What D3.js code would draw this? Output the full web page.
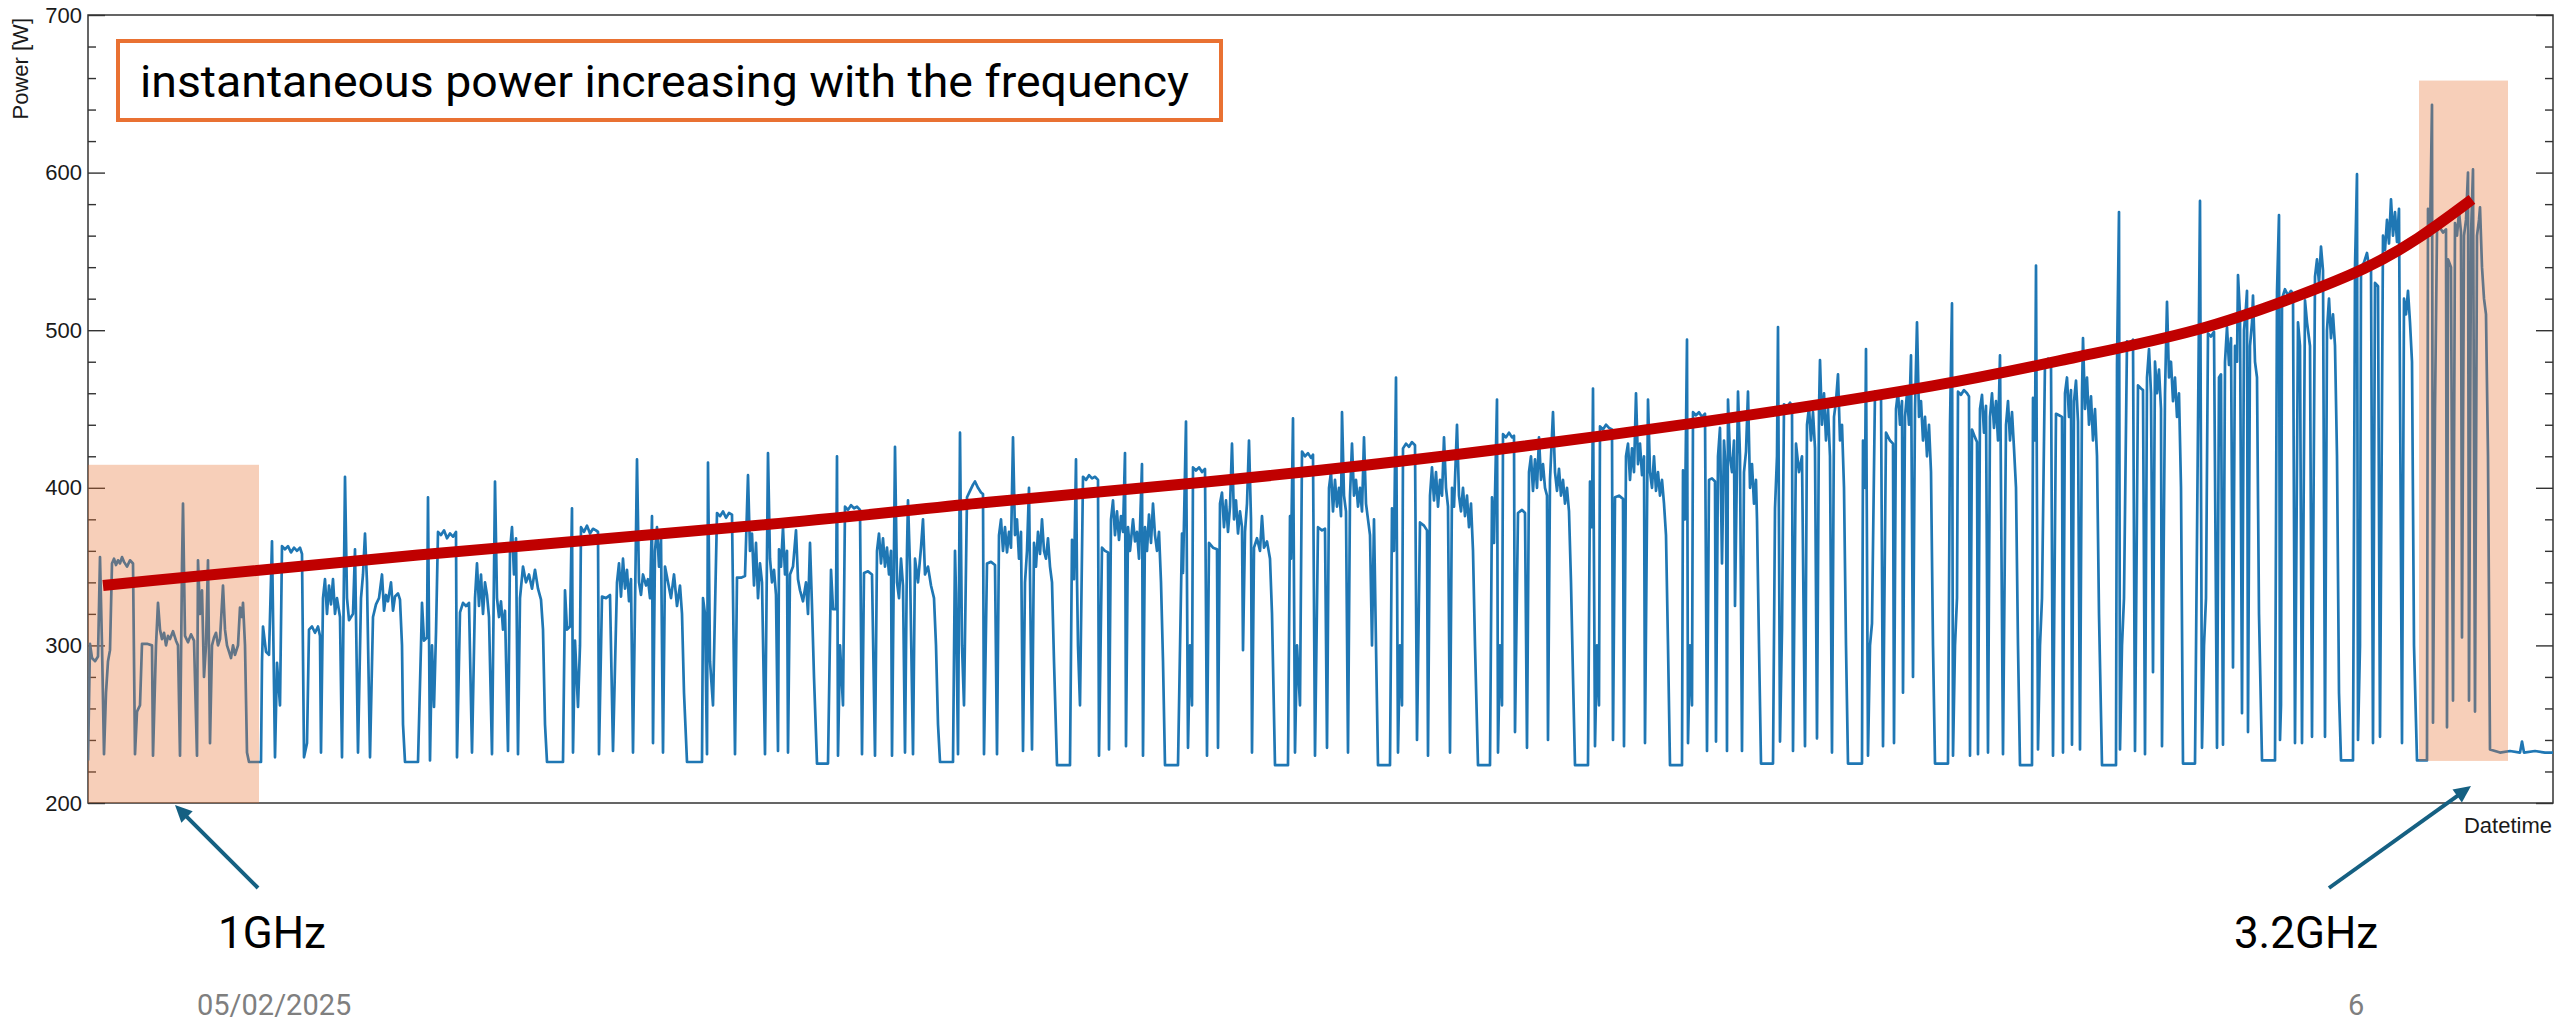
<!DOCTYPE html>
<html>
<head>
<meta charset="utf-8">
<title>Instantaneous power vs CPU frequency</title>
<script src="https://cdn.jsdelivr.net/npm/d3@7/dist/d3.min.js"></script>
<style>
  html, body { margin: 0; padding: 0; background: #ffffff; }
  svg { display: block; }
</style>
</head>
<body>
<svg id="chart" width="2560" height="1023"></svg>
<script>
// ---------------------------------------------------------------------------
// Data
// ---------------------------------------------------------------------------

// Node power log: [sample number (6 s sampling), power in W].
// One benchmark pass per frequency step, 1.0 GHz up to 3.2 GHz, with an idle gap between passes.
const trace = [
  // 1.0 GHz
  [0,227],[2,301],[4,292],[7,290],[10,293],[12,356],[14,300],[16,231],[18,270],[20,290],[22,297],[24,352],[26,355],[28,351],[30,354],[32,352],[34,356],[36,353],[39,350],[42,354],[45,352],[47,231],[49,258],[52,262],[54,301],[59,301],[64,300],[65,230],[68,300],[70,327],[72,310],[74,304],[76,308],[78,300],[80,306],[82,304],[85,309],[88,303],[90,300],[92,230],[94,350],[95,390],[97,306],[100,302],[103,307],[106,303],[109,230],[110,354],[112,320],[114,335],[116,280],[118,300],[120,354],[122,238],[124,300],[126,305],[128,308],[130,300],[132,304],[135,338],[137,310],[139,300],[141,296],[143,292],[145,300],[147,294],[150,300],[152,324],[154,318],[155,327],[157,300],[159,232],[161,226],[167,226],[173,226],
  // 1.1 GHz
  [174,290],[175,312],[178,296],[181,294],[184,366],[187,229],[189,289],[192,262],[194,363],[197,361],[200,363],[203,359],[206,362],[209,360],[212,362],[214,358],[216,229],[219,238],[221,310],[224,312],[227,308],[230,312],[232,306],[233,232],[235,330],[237,342],[239,320],[241,338],[243,326],[245,342],[247,320],[249,330],[252,318],[254,229],[257,407],[259,330],[261,316],[263,318],[265,320],[267,361],[268,318],[270,232],[273,330],[275,345],[277,371],[279,340],[282,229],[285,318],[288,326],[291,330],[294,345],[296,322],[298,332],[300,328],[303,340],[305,322],[307,331],[310,333],[312,329],[314,300],[315,250],[317,226],[330,226],
  // 1.2 GHz
  [333,300],[334,327],[336,303],[339,305],[340,394],[342,227],[344,300],[346,261],[348,308],[350,372],[353,370],[356,373],[359,368],[362,371],[365,369],[368,372],[369,229],[372,321],[375,327],[378,325],[381,327],[384,232],[387,330],[389,352],[391,325],[393,345],[395,320],[397,340],[399,332],[401,318],[404,231],[407,404],[409,330],[411,318],[413,328],[415,310],[417,322],[420,233],[422,360],[424,375],[426,345],[428,368],[430,231],[432,330],[435,350],[438,340],[441,345],[444,336],[447,348],[450,336],[453,329],[455,310],[457,250],[459,226],[475,226],
  // 1.3 GHz
  [477,335],[479,310],[482,312],[484,387],[485,232],[487,303],[490,261],[492,300],[493,375],[496,372],[499,376],[502,371],[505,374],[508,373],[510,372],[511,231],[514,331],[518,330],[522,332],[525,233],[529,340],[531,352],[533,331],[535,355],[537,336],[539,348],[541,328],[543,342],[545,232],[549,418],[551,340],[553,332],[555,345],[558,338],[560,342],[562,330],[564,382],[565,238],[567,360],[569,375],[571,350],[573,368],[575,232],[577,350],[580,340],[583,330],[586,345],[589,325],[592,338],[594,320],[596,270],[599,226],[614,226],
  // 1.4 GHz
  [615,330],[617,320],[619,231],[620,416],[622,290],[625,262],[629,384],[632,382],[635,385],[638,381],[641,384],[644,383],[647,231],[649,343],[653,343],[657,344],[660,408],[662,360],[664,371],[666,338],[668,365],[670,330],[672,352],[674,340],[677,231],[680,422],[682,355],[684,340],[686,348],[688,332],[690,233],[691,361],[693,350],[695,375],[697,345],[699,360],[700,232],[702,345],[705,350],[708,373],[710,342],[712,335],[715,328],[718,340],[720,320],[722,365],[724,325],[726,280],[729,225],[740,225],
  // 1.5 GHz
  [743,348],[745,323],[748,323],[749,420],[750,230],[752,300],[755,262],[757,388],[760,386],[763,389],[766,387],[769,388],[772,386],[774,231],[776,346],[780,347],[784,345],[787,230],[789,360],[791,371],[793,352],[795,368],[797,350],[799,362],[801,345],[803,360],[804,230],[807,426],[809,340],[811,330],[813,355],[815,338],[817,232],[819,360],[820,392],[822,350],[825,231],[827,355],[830,340],[833,362],[835,380],[837,345],[840,350],[843,338],[846,330],[848,300],[850,250],[852,226],[865,226],
  // 1.6 GHz
  [867,360],[868,333],[870,231],[872,435],[874,300],[876,262],[879,394],[882,398],[885,402],[887,404],[890,400],[893,397],[895,396],[896,231],[899,352],[903,353],[907,351],[909,231],[911,370],[913,380],[915,360],[917,375],[919,359],[921,372],[923,362],[925,432],[927,370],[929,380],[931,355],[933,372],[935,233],[937,340],[939,360],[941,400],[942,345],[944,234],[946,365],[948,350],[950,372],[952,358],[954,380],[956,360],[958,355],[960,368],[962,350],[964,340],[966,290],[969,224],[982,224],
  // 1.7 GHz
  [984,367],[986,342],[988,418],[989,342],[990,300],[992,262],[995,407],[998,405],[1001,408],[1004,406],[1007,407],[1010,405],[1011,230],[1014,362],[1017,360],[1020,359],[1021,234],[1023,380],[1025,392],[1027,370],[1029,385],[1031,367],[1033,382],[1035,372],[1037,422],[1038,236],[1040,375],[1042,360],[1045,380],[1047,366],[1049,372],[1051,355],[1054,415],[1055,230],[1057,375],[1059,360],[1061,383],[1063,365],[1065,390],[1067,370],[1069,360],[1071,372],[1073,340],[1075,290],[1077,224],[1090,224],
  // 1.8 GHz
  [1094,371],[1095,346],[1098,442],[1100,235],[1102,300],[1104,262],[1105,413],[1108,411],[1111,413],[1114,410],[1117,412],[1119,230],[1121,365],[1125,362],[1129,361],[1130,235],[1132,390],[1134,397],[1136,375],[1138,392],[1140,372],[1142,388],[1144,428],[1146,380],[1148,392],[1150,371],[1152,385],[1154,375],[1155,297],[1157,372],[1159,390],[1161,430],[1163,380],[1164,232],[1166,362],[1169,368],[1172,360],[1174,382],[1176,362],[1179,366],[1182,355],[1184,320],[1187,224],[1200,224],
  // 1.9 GHz
  [1202,382],[1203,355],[1205,444],[1207,232],[1209,300],[1212,262],[1214,423],[1217,420],[1220,422],[1223,419],[1225,421],[1227,230],[1230,375],[1234,373],[1237,374],[1239,235],[1241,400],[1243,410],[1245,385],[1247,405],[1249,388],[1251,400],[1253,382],[1254,448],[1256,395],[1258,385],[1260,232],[1262,395],[1264,428],[1266,395],[1268,405],[1270,388],[1272,400],[1274,385],[1276,432],[1278,390],[1280,380],[1282,370],[1284,300],[1286,380],[1288,300],[1290,224],[1302,224],
  // 2.0 GHz
  [1304,387],[1306,360],[1308,470],[1310,232],[1312,300],[1314,262],[1315,425],[1318,428],[1321,426],[1324,429],[1327,427],[1329,240],[1332,378],[1336,376],[1339,373],[1340,230],[1342,395],[1344,413],[1346,392],[1348,410],[1350,388],[1352,405],[1354,395],[1356,432],[1358,400],[1360,388],[1362,232],[1364,400],[1366,388],[1369,440],[1371,395],[1373,385],[1375,400],[1377,382],[1379,395],[1381,375],[1383,390],[1385,360],[1387,300],[1390,224],[1402,224],
  // 2.1 GHz
  [1404,394],[1406,365],[1409,456],[1410,232],[1412,300],[1414,262],[1415,434],[1418,432],[1421,435],[1424,432],[1426,433],[1427,245],[1430,384],[1434,386],[1437,384],[1439,235],[1441,410],[1443,420],[1445,398],[1447,418],[1449,400],[1451,432],[1453,405],[1455,415],[1457,400],[1459,395],[1460,240],[1462,405],[1465,448],[1467,410],[1469,398],[1471,412],[1473,395],[1475,405],[1477,390],[1479,400],[1481,385],[1483,340],[1485,280],[1487,224],[1500,224],
  // 2.2 GHz
  [1502,404],[1504,375],[1505,463],[1507,236],[1509,300],[1511,262],[1512,439],[1515,437],[1518,440],[1521,438],[1524,437],[1525,240],[1527,394],[1531,395],[1535,393],[1536,236],[1538,420],[1540,428],[1542,405],[1544,425],[1546,410],[1548,460],[1550,415],[1552,428],[1554,408],[1556,420],[1557,238],[1560,456],[1562,410],[1564,400],[1566,420],[1568,398],[1570,410],[1572,395],[1574,405],[1576,390],[1578,370],[1580,300],[1582,224],[1594,224],
  // 2.3 GHz
  [1595,411],[1597,380],[1599,494],[1600,238],[1602,300],[1604,262],[1605,448],[1608,446],[1611,448],[1614,445],[1617,447],[1619,233],[1621,405],[1624,406],[1627,404],[1628,239],[1630,420],[1632,438],[1634,352],[1636,430],[1638,408],[1639,233],[1640,456],[1642,420],[1644,410],[1646,430],[1647,325],[1649,415],[1650,461],[1652,420],[1654,233],[1656,410],[1658,423],[1660,461],[1662,400],[1664,415],[1666,390],[1668,405],[1669,380],[1671,300],[1673,225],[1685,225],
  // 2.4 GHz
  [1687,387],[1689,420],[1690,502],[1692,239],[1694,310],[1696,453],[1699,451],[1702,454],[1704,452],[1705,233],[1708,428],[1711,410],[1714,420],[1717,236],[1719,440],[1721,451],[1723,430],[1725,448],[1727,425],[1729,241],[1731,450],[1732,481],[1734,440],[1736,460],[1738,430],[1740,450],[1742,420],[1744,232],[1746,445],[1748,455],[1750,472],[1752,430],[1754,440],[1756,400],[1758,300],[1760,225],[1774,225],
  // 2.5 GHz
  [1775,430],[1777,400],[1778,488],[1780,230],[1782,300],[1784,314],[1787,461],[1790,459],[1793,461],[1795,236],[1798,435],[1802,430],[1805,428],[1806,238],[1808,450],[1810,461],[1812,440],[1814,455],[1815,270],[1817,445],[1819,460],[1821,440],[1823,484],[1825,280],[1827,450],[1829,505],[1831,445],[1833,455],[1835,430],[1837,445],[1839,420],[1841,440],[1843,410],[1845,300],[1847,225],[1860,225],
  // 2.6 GHz
  [1862,440],[1864,517],[1865,230],[1867,300],[1869,330],[1870,461],[1873,459],[1876,462],[1879,460],[1881,458],[1882,230],[1884,437],[1887,432],[1889,429],[1890,231],[1892,450],[1894,459],[1896,435],[1898,452],[1900,232],[1902,445],[1904,460],[1906,438],[1908,455],[1910,430],[1912,484],[1915,231],[1918,440],[1920,455],[1922,430],[1924,448],[1926,425],[1928,400],[1930,300],[1932,224],[1944,224],
  // 2.7 GHz
  [1945,457],[1947,430],[1948,541],[1950,234],[1952,300],[1954,330],[1957,480],[1960,482],[1963,479],[1965,230],[1968,447],[1971,446],[1974,445],[1975,232],[1977,460],[1979,470],[1981,445],[1983,462],[1984,237],[1986,455],[1988,468],[1990,442],[1992,234],[1994,460],[1995,495],[1997,450],[1999,470],[2001,440],[2003,458],[2005,430],[2007,450],[2009,420],[2011,320],[2014,224],[2028,224],
  // 2.8 GHz
  [2029,478],[2031,575],[2032,234],[2034,300],[2036,330],[2039,493],[2042,491],[2045,494],[2047,233],[2050,465],[2053,463],[2055,462],[2057,231],[2059,470],[2061,488],[2063,460],[2065,283],[2067,480],[2069,460],[2071,475],[2073,450],[2074,236],[2077,460],[2079,518],[2081,470],[2083,480],[2085,455],[2087,470],[2089,445],[2091,460],[2093,400],[2095,225],[2107,225],
  // 2.9 GHz
  [2110,440],[2112,582],[2114,235],[2116,300],[2118,330],[2120,498],[2123,496],[2126,499],[2129,235],[2131,470],[2133,472],[2135,237],[2137,480],[2139,502],[2141,478],[2143,495],[2145,286],[2147,490],[2149,480],[2150,535],[2152,510],[2154,257],[2156,500],[2158,515],[2159,525],[2160,245],[2162,490],[2164,505],[2165,522],[2167,480],[2169,470],[2171,320],[2174,227],[2187,227],
  // 3.0 GHz
  [2189,524],[2191,573],[2192,240],[2193,262],[2194,520],[2197,526],[2200,522],[2203,525],[2205,523],[2207,238],[2210,505],[2212,490],[2214,238],[2217,519],[2219,505],[2222,490],[2224,242],[2227,534],[2229,545],[2231,530],[2233,553],[2235,538],[2237,242],[2239,500],[2241,520],[2243,495],[2245,510],[2247,490],[2249,420],[2251,270],[2253,227],[2265,227],
  // 3.1 GHz
  [2267,540],[2269,599],[2270,240],[2272,300],[2273,540],[2276,543],[2279,549],[2281,540],[2283,542],[2285,238],[2287,530],[2290,528],[2292,242],[2295,560],[2297,551],[2299,570],[2301,555],[2303,583],[2305,560],[2307,575],[2309,556],[2311,577],[2314,238],[2316,520],[2318,510],[2320,525],[2322,505],[2324,480],[2326,300],[2329,227],[2339,227],
  // 3.2 GHz, then idle
  [2340,577],[2342,560],[2344,643],[2345,251],[2347,450],[2349,563],[2352,565],[2355,562],[2358,564],[2359,248],[2360,545],[2363,540],[2365,265],[2367,568],[2369,560],[2371,575],[2373,562],[2374,305],[2376,560],[2378,570],[2380,600],[2381,265],[2383,560],[2385,602],[2387,258],[2389,560],[2391,570],[2392,578],[2394,540],[2396,520],[2398,510],[2400,420],[2402,234],[2412,232],[2422,233],[2432,232],[2434,239],[2436,232],[2447,233],[2457,232],[2465,232]
];

// Hand-drawn trend of the busy-level power: [sample number, W]
const trendCurve = [
  [15,338],[312,357],[717,378],[892,391],[1117,403],[1362,420],
  [1612,441],[1867,466],[1987,483],[2112,499],[2212,522],[2279,539],[2329,557],[2384,583]
];

// Highlighted frequency windows: sample range and power range
const bandLabels = ["1GHz", "3.2GHz"];
const bandSamples = [[0,171],[2331,2420]];
const bandPower   = [[200,414.6],[226.7,658.4]];

const yMajorTicks = [200,300,400,500,600,700];
const yMinorTicks = d3.range(200, 701, 20).filter(v => v % 100 !== 0);
const sampleDomain = [0, 2465];
const powerDomain  = [200, 700];

const titleText  = "instantaneous power increasing with the frequency";
const yAxisTitle = "Power [W]";
const xAxisTitle = "Datetime";
const footerDate = "05/02/2025";
const pageNumber = "6";

// ---------------------------------------------------------------------------
// Layout
// ---------------------------------------------------------------------------
const plot = { left: 88, right: 2553, top: 15, bottom: 803 };
const svg = d3.select("#chart");

const x = d3.scaleLinear().domain(sampleDomain).range([plot.left, plot.right]);
const y = d3.scaleLinear().domain(powerDomain).range([plot.bottom, plot.top]);

const axisColor = "#333333";
const axisFont = "'Liberation Sans', Arial, Helvetica, sans-serif";
const noteFont = "Roboto, 'Open Sans', 'Noto Sans', sans-serif";

svg.append("defs").append("clipPath").attr("id", "plot-clip")
  .append("rect")
  .attr("x", plot.left).attr("y", plot.top)
  .attr("width", plot.right - plot.left).attr("height", plot.bottom - plot.top);

// ---- axes --------------------------------------------------------------------
const axes = svg.append("g").attr("class", "axes");

function styleAxis(g) {
  g.select(".domain").remove();
  g.selectAll(".tick line").attr("stroke", axisColor).attr("stroke-width", 1.4);
  g.selectAll(".tick text")
    .attr("fill", "#1a1a1a")
    .attr("font-family", axisFont)
    .attr("font-size", 22);
}

axes.append("g")
  .attr("transform", `translate(${plot.left},0)`)
  .call(d3.axisLeft(y).tickValues(yMajorTicks).tickSize(-17).tickPadding(6).tickFormat(d3.format("d")))
  .call(styleAxis);

axes.append("g")
  .attr("transform", `translate(${plot.left},0)`)
  .call(d3.axisLeft(y).tickValues(yMinorTicks).tickSize(-8).tickFormat(""))
  .call(styleAxis);

axes.append("g")
  .attr("transform", `translate(${plot.right},0)`)
  .call(d3.axisRight(y).tickValues(yMajorTicks).tickSize(-17).tickFormat(""))
  .call(styleAxis);

axes.append("g")
  .attr("transform", `translate(${plot.right},0)`)
  .call(d3.axisRight(y).tickValues(yMinorTicks).tickSize(-8).tickFormat(""))
  .call(styleAxis);

axes.append("rect")
  .attr("x", plot.left).attr("y", plot.top)
  .attr("width", plot.right - plot.left).attr("height", plot.bottom - plot.top)
  .attr("fill", "none").attr("stroke", axisColor).attr("stroke-width", 1.5);

axes.append("text")
  .attr("transform", `translate(28,${plot.top + 3}) rotate(-90)`)
  .attr("text-anchor", "end")
  .attr("font-family", axisFont).attr("font-size", 22).attr("fill", "#1a1a1a")
  .text(yAxisTitle);

axes.append("text")
  .attr("x", plot.right - 1).attr("y", plot.bottom + 30)
  .attr("text-anchor", "end")
  .attr("font-family", axisFont).attr("font-size", 22).attr("fill", "#1a1a1a")
  .text(xAxisTitle);

// ---- power trace ---------------------------------------------------------------
const powerLine = d3.line()
  .x(d => x(d[0]))
  .y(d => y(d[1]));

svg.append("path")
  .datum(trace)
  .attr("clip-path", "url(#plot-clip)")
  .attr("fill", "none")
  .attr("stroke", "#1f77b4")
  .attr("stroke-width", 2.7)
  .attr("stroke-linejoin", "round")
  .attr("d", powerLine);

// ---- highlighted frequency windows ----------------------------------------------
svg.append("g").selectAll("rect")
  .data(bandLabels)
  .join("rect")
  .attr("x", (d, i) => x(bandSamples[i][0]))
  .attr("width", (d, i) => x(bandSamples[i][1]) - x(bandSamples[i][0]))
  .attr("y", (d, i) => y(bandPower[i][1]))
  .attr("height", (d, i) => y(bandPower[i][0]) - y(bandPower[i][1]))
  .attr("fill", "#E97132")
  .attr("fill-opacity", 0.34);

// ---- trend curve ----------------------------------------------------------------
svg.append("path")
  .datum(trendCurve)
  .attr("fill", "none")
  .attr("stroke", "#C00000")
  .attr("stroke-width", 11)
  .attr("stroke-linecap", "butt")
  .attr("d", d3.line().x(d => x(d[0])).y(d => y(d[1])).curve(d3.curveBasis));

// ---- title box --------------------------------------------------------------------
const box = { x: 118, y: 41, w: 1103, h: 79 };
svg.append("rect")
  .attr("x", box.x).attr("y", box.y).attr("width", box.w).attr("height", box.h)
  .attr("fill", "#ffffff").attr("stroke", "#E97132").attr("stroke-width", 4);

svg.append("text")
  .attr("x", 140).attr("y", 97)
  .attr("font-family", noteFont).attr("font-size", 44).attr("fill", "#000")
  .attr("textLength", 1049).attr("lengthAdjust", "spacingAndGlyphs")
  .text(titleText);

// ---- frequency callouts -------------------------------------------------------------
const arrowColor = "#156082";
const callouts = [
  { tip: [175, 805], tail: [258, 888], textX: 272 },
  { tip: [2471, 786], tail: [2329, 888], textX: 2306 }
];

const notes = svg.append("g");
callouts.forEach((c, i) => {
  const dx = c.tip[0] - c.tail[0], dy = c.tip[1] - c.tail[1];
  const len = Math.hypot(dx, dy);
  const ux = dx / len, uy = dy / len;
  const headLen = 17, headHalf = 8;
  const bx = c.tip[0] - ux * headLen, by = c.tip[1] - uy * headLen;
  notes.append("line")
    .attr("x1", c.tail[0]).attr("y1", c.tail[1])
    .attr("x2", bx + ux * 2).attr("y2", by + uy * 2)
    .attr("stroke", arrowColor).attr("stroke-width", 4);
  notes.append("path")
    .attr("d", `M${c.tip[0]},${c.tip[1]} L${bx - uy * headHalf},${by + ux * headHalf} L${bx + uy * headHalf},${by - ux * headHalf} Z`)
    .attr("fill", arrowColor);
  notes.append("text")
    .attr("x", c.textX).attr("y", 948)
    .attr("text-anchor", "middle")
    .attr("font-family", noteFont).attr("font-size", 44).attr("fill", "#000")
    .text(bandLabels[i]);
});

// ---- footer ---------------------------------------------------------------------------
svg.append("text")
  .attr("x", 197).attr("y", 1015)
  .attr("font-family", noteFont).attr("font-size", 29).attr("fill", "#7f7f7f")
  .text(footerDate);

svg.append("text")
  .attr("x", 2348).attr("y", 1015)
  .attr("font-family", noteFont).attr("font-size", 29).attr("fill", "#7f7f7f")
  .text(pageNumber);
</script>
</body>
</html>
